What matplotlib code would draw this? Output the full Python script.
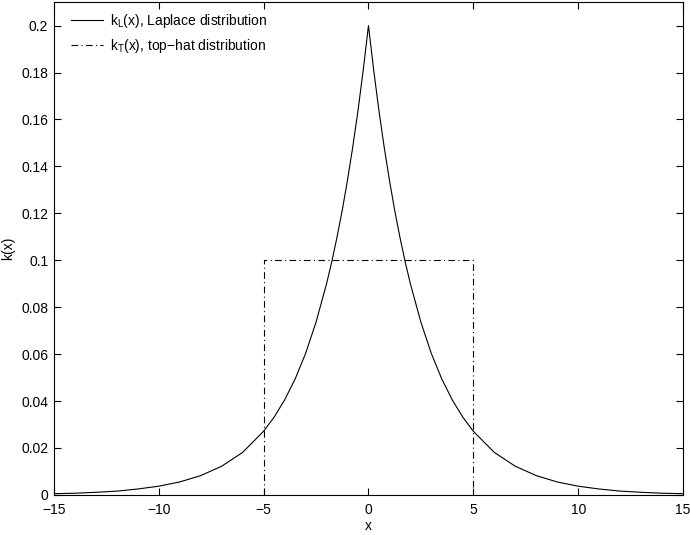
import matplotlib
matplotlib.use("Agg")
import matplotlib.pyplot as plt

plt.rcParams['font.family'] = ['Liberation Sans', 'DejaVu Sans']
plt.rcParams['mathtext.fontset'] = 'custom'
plt.rcParams['mathtext.rm'] = 'Liberation Sans'
plt.rcParams['mathtext.it'] = 'Liberation Sans'

# Laplace curve, values
lap_x = [-15, -14, -13, -12, -11, -10, -9, -8, -7, -6, -5, -4.5, -4, -3.5, -3, -2.5,
         -2, -1.75, -1.5, -1.25, -1, -0.75, -0.5, -0.25, 0, 0.25, 0.5, 0.75, 1, 1.25,
         1.5, 1.75, 2, 2.5, 3, 3.5, 4, 4.5, 5, 6, 7, 8, 9, 10, 11, 12, 13, 14, 15]
lap_y = [0.0005, 0.0007, 0.0011, 0.0016, 0.0025, 0.0037, 0.0055, 0.0082, 0.0122,
         0.0181, 0.0271, 0.0331, 0.0404, 0.0493, 0.0602, 0.0736,
         0.0899, 0.0993, 0.1098, 0.1213, 0.1341, 0.1482, 0.1637, 0.1810, 0.2,
         0.1810, 0.1637, 0.1482, 0.1341, 0.1213, 0.1098, 0.0993, 0.0899, 0.0736,
         0.0602, 0.0493, 0.0404, 0.0331, 0.0271, 0.0181, 0.0122, 0.0082, 0.0055,
         0.0037, 0.0025, 0.0016, 0.0011, 0.0007, 0.0005]

# top-hat
hat_x = [-5, -5, 5, 5]
hat_y = [0, 0.1, 0.1, 0]

xticks = [-15, -10, -5, 0, 5, 10, 15]
yticks = [0, 0.02, 0.04, 0.06, 0.08, 0.1, 0.12, 0.14, 0.16, 0.18, 0.2]
ytick_labels = ['0', '0.02', '0.04', '0.06', '0.08', '0.1', '0.12', '0.14', '0.16', '0.18', '0.2']

fig = plt.figure(figsize=(6.9, 5.35), dpi=100)
ax = fig.add_axes([0.078, 0.075, 0.912, 0.921])

ax.plot(lap_x, lap_y, color='black', linewidth=0.8,
        label=r'k$_\mathrm{L}$(x), Laplace distribution')
ax.plot(hat_x, hat_y, color='black', linewidth=0.8, dashes=(6, 3, 1, 3),
        label=r'k$_\mathrm{T}$(x), top$-$hat distribution')

ax.set_xlim(-15, 15)
ax.set_ylim(0, 0.21)
ax.set_xticks(xticks)
ax.set_xticklabels([str(t).replace('-', '\u2212') for t in xticks])
ax.set_yticks(yticks)
ax.set_yticklabels(ytick_labels)
ax.tick_params(direction='in', top=True, right=True, length=5, labelsize=10, width=0.8)
ax.tick_params(axis='x', pad=6)
ax.tick_params(axis='y', pad=4)
for s in ax.spines.values():
    s.set_linewidth(0.8)

ax.set_xlabel('x', fontsize=10, labelpad=1)
ax.set_ylabel('k(x)', fontsize=10, labelpad=4)

leg = ax.legend(loc='upper left', bbox_to_anchor=(0.012, 1.0), frameon=False,
                fontsize=10, handlelength=2.3, borderaxespad=0.3, labelspacing=0.5,
                handletextpad=0.5, borderpad=0.4)

plt.savefig('out.png', dpi=100)
